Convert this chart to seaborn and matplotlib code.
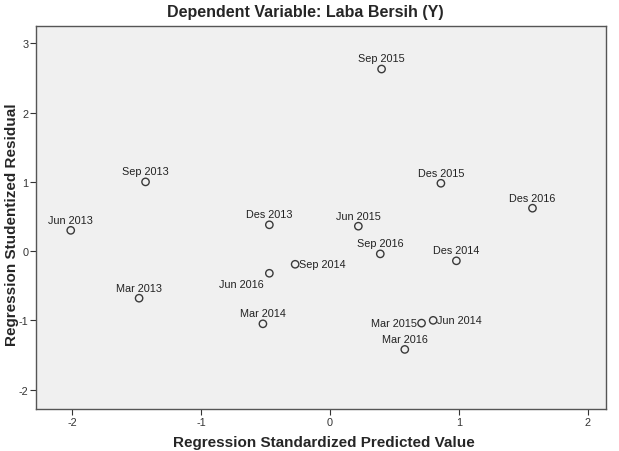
import pandas as pd
import matplotlib
import matplotlib.pyplot as plt
import seaborn as sns

matplotlib.use('Agg')

# Data
labels = ['Jun 2013', 'Sep 2013', 'Mar 2013', 'Des 2013', 'Jun 2016', 'Sep 2014',
          'Mar 2014', 'Sep 2015', 'Des 2015', 'Des 2016', 'Jun 2015', 'Sep 2016',
          'Des 2014', 'Mar 2015', 'Jun 2014', 'Mar 2016']
pred = [-2.01, -1.43, -1.48, -0.47, -0.47, -0.27,
        -0.52, 0.40, 0.86, 1.57, 0.22, 0.39,
        0.98, 0.71, 0.80, 0.58]
resid = [0.30, 1.00, -0.68, 0.38, -0.32, -0.19,
         -1.05, 2.63, 0.98, 0.62, 0.36, -0.04,
         -0.14, -1.04, -1.00, -1.42]
x_ticks = [-2, -1, 0, 1, 2]
y_ticks = [-2, -1, 0, 1, 2, 3]

df = pd.DataFrame({'label': labels, 'pred': pred, 'resid': resid})

sns.set_style('white')
plt.rcParams['font.family'] = ['Liberation Sans', 'DejaVu Sans']
plt.rcParams['axes.unicode_minus'] = False

fig = plt.figure(figsize=(6.19, 4.52), dpi=100)
ax = fig.add_axes([0.058, 0.093, 0.921, 0.847])
ax.set_facecolor('#f0f0f0')

sns.scatterplot(data=df, x='pred', y='resid', ax=ax, s=28, marker='o',
                facecolor='none', edgecolor='#3a3a3a', linewidth=1.0, legend=False)

# label placement (offset in points, ha, va); default is centered above
special = {
    'Sep 2014': ((3, 0), 'left', 'center'),
    'Jun 2016': ((-4, -4), 'right', 'top'),
    'Mar 2015': ((-3, 0), 'right', 'center'),
    'Jun 2014': ((3, 0), 'left', 'center'),
}
for lab, xv, yv in zip(labels, pred, resid):
    off, ha, va = special.get(lab, ((0, 4), 'center', 'bottom'))
    ax.annotate(lab, (xv, yv), xytext=off, textcoords='offset points',
                ha=ha, va=va, fontsize=7.8, color='#222222')

ax.set_xlim(-2.28, 2.14)
ax.set_ylim(-2.28, 3.25)
ax.set_xticks(x_ticks)
ax.set_yticks(y_ticks)
ax.tick_params(axis='both', direction='out', length=4, width=0.8, labelsize=7.8,
               colors='#333333', bottom=True, left=True, pad=1.5)
for sp in ax.spines.values():
    sp.set_color('#555555')
    sp.set_linewidth(1.0)

ax.set_xlabel('Regression Standardized Predicted Value', fontsize=11,
              fontweight='bold')
ax.set_ylabel('Regression Studentized Residual', fontsize=11,
              fontweight='bold')
ax.xaxis.set_label_coords(0.505, -0.068)
ax.yaxis.set_label_coords(-0.030, 0.485)
fig.text(0.494, 0.973, 'Dependent Variable: Laba Bersih (Y)', fontsize=11.5,
         fontweight='bold', ha='center', va='center')

fig.savefig('out.png', dpi=100)
